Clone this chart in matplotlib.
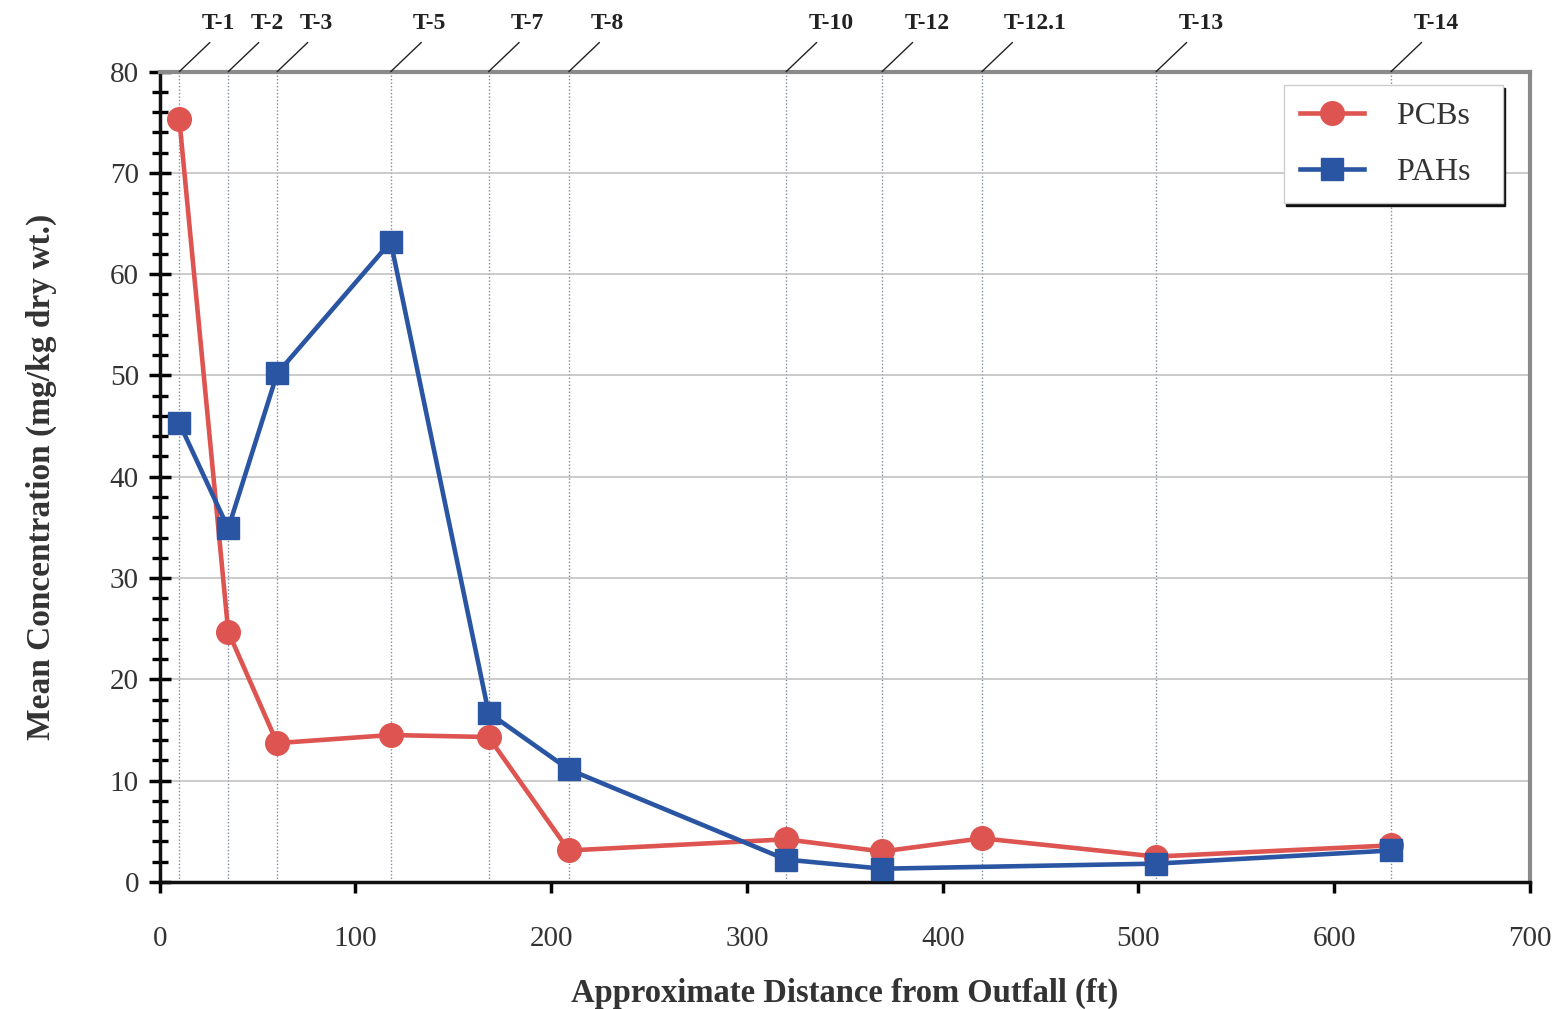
import matplotlib.pyplot as plt
from matplotlib.ticker import MultipleLocator

# Transect stations along the outfall line
stations = ['T-1', 'T-2', 'T-3', 'T-5', 'T-7', 'T-8', 'T-10', 'T-12', 'T-12.1', 'T-13', 'T-14']
distance = [10, 35, 60, 118, 168, 209, 320, 369, 420, 509, 629]

# Mean concentrations (mg/kg dry wt.)
pcb_dist = [10, 35, 60, 118, 168, 209, 320, 369, 420, 509, 629]
pcb_conc = [75.3, 24.7, 13.7, 14.5, 14.3, 3.1, 4.2, 3.0, 4.3, 2.5, 3.6]
pah_dist = [10, 35, 60, 118, 168, 209, 320, 369, 509, 629]
pah_conc = [45.3, 34.9, 50.2, 63.2, 16.7, 11.1, 2.2, 1.3, 1.8, 3.1]

red = '#dd5450'
blue = '#2a55a3'

plt.rcParams['font.family'] = ['Liberation Serif', 'DejaVu Serif']

fig = plt.figure(figsize=(15.66, 10.09), dpi=100)
ax = fig.add_axes([0.102, 0.126, 0.875, 0.803])

ax.set_xlim(0, 700)
ax.set_ylim(0, 80)

# horizontal grid every 10, dotted verticals at each station
ax.yaxis.set_major_locator(MultipleLocator(10))
ax.yaxis.set_minor_locator(MultipleLocator(2))
ax.xaxis.set_major_locator(MultipleLocator(100))
ax.grid(axis='y', color='#bdbdbd', lw=1.1)
for d in distance:
    ax.axvline(d, color='#7d8ba0', lw=1.0, ls=(0, (1, 1.5)), zorder=1)

ax.plot(pcb_dist, pcb_conc, color=red, lw=3.3, marker='o', ms=17, label='PCBs', zorder=3)
ax.plot(pah_dist, pah_conc, color=blue, lw=3.3, marker='s', ms=16, label='PAHs', zorder=4)

# station labels with leader lines above the plot
for name, d in zip(stations, distance):
    ax.annotate('', xy=(d, 1), xycoords=('data', 'axes fraction'),
                xytext=(22, 21), textcoords='offset points',
                arrowprops=dict(arrowstyle='-', color='#222222', lw=1.0,
                                shrinkA=0, shrinkB=0),
                annotation_clip=False)
    ax.annotate(name, xy=(d, 1), xycoords=('data', 'axes fraction'),
                xytext=(16, 35), textcoords='offset points',
                ha='left', va='center', fontsize=17, fontweight='bold',
                color='#222222', annotation_clip=False)

for side in ['left', 'bottom']:
    ax.spines[side].set_color('#111111')
    ax.spines[side].set_linewidth(2.5)
for side in ['top', 'right']:
    ax.spines[side].set_color('#8a8a8a')
    ax.spines[side].set_linewidth(3)

ax.tick_params(axis='y', which='major', direction='inout', length=16, width=2.5,
               pad=7, labelsize=21, labelcolor='#333333')
ax.tick_params(axis='y', which='minor', direction='inout', length=11, width=2.4)
ax.tick_params(axis='x', which='major', direction='out', length=8, width=2.5,
               pad=24, labelsize=21, labelcolor='#333333')

ax.set_xlabel('Approximate Distance from Outfall (ft)', fontsize=23.5,
              fontweight='bold', color='#333333', labelpad=18)
ax.set_ylabel('Mean Concentration (mg/kg dry wt.)', fontsize=24,
              fontweight='bold', color='#333333', labelpad=38)

leg = ax.legend(loc='upper right', bbox_to_anchor=(0.98, 0.983), fontsize=23,
                frameon=True, fancybox=False, shadow={'color': '#111111', 'alpha': 1},
                handlelength=2.0, borderpad=0.5, labelspacing=0.85,
                handletextpad=1.05, borderaxespad=0)
leg.get_frame().set_edgecolor('#cccccc')
leg.get_frame().set_linewidth(1)
for t in leg.get_texts():
    t.set_color('#333333')
    t.set_text(t.get_text() + '  ')

fig.savefig('out.png', dpi=100)
